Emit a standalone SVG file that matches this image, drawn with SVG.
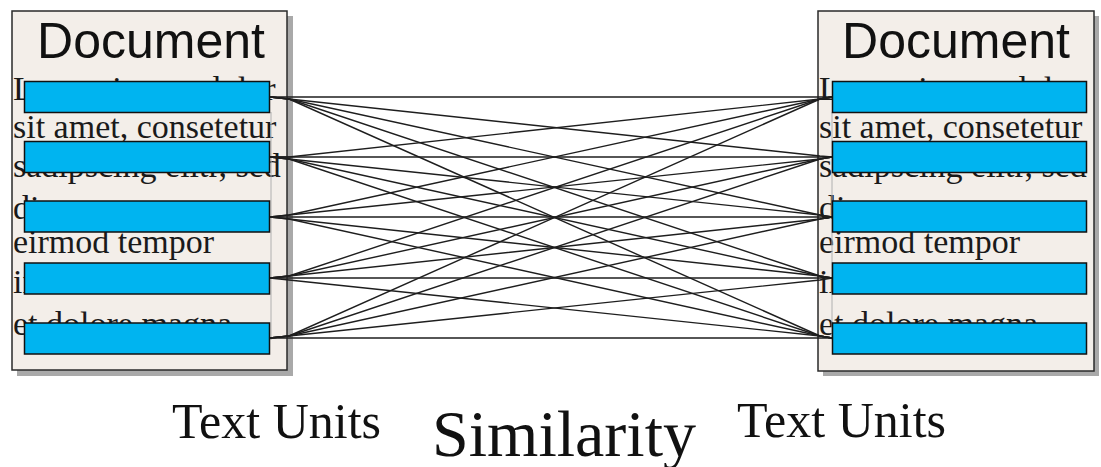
<svg xmlns="http://www.w3.org/2000/svg" width="1101" height="467" viewBox="0 0 1101 467">
<style>
.shadow{fill:#a9a9a9}
.doc{fill:#f3eee9;stroke:#2a2a2a;stroke-width:1.5}
.title{font-family:"Liberation Sans",Arial,sans-serif;font-size:50px;fill:#111;text-anchor:middle}
.lorem{font-family:"Liberation Serif","Times New Roman",serif;font-size:34px;fill:#1a1a1a}
.unit{fill:#00b4f0;stroke:#111;stroke-width:1.5}
.conn{fill:none;stroke:#1e1e1e;stroke-width:1.4}
.guide{stroke:#b0b0b0;stroke-width:1}
.label{font-family:"Liberation Serif","Times New Roman",serif;fill:#111}
</style>
<rect width="1101" height="467" fill="#ffffff"/>
<g id="doc-left">
<rect class="shadow" x="17" y="16" width="276" height="360"/>
<rect class="doc" x="12" y="11" width="275" height="359"/>
<text class="title" x="151" y="58">Document</text>
<text class="lorem" x="13" y="100">Lorem ipsum dolor</text>
<text class="lorem" x="13" y="138">sit amet, consetetur</text>
<text class="lorem" x="13" y="177">sadipscing elitr, sed</text>
<text class="lorem" x="13" y="219">diam nonumy</text>
<text class="lorem" x="13" y="253">eirmod tempor</text>
<text class="lorem" x="13" y="293">invidunt ut labore</text>
<text class="lorem" x="13" y="335">et dolore magna</text>
<line class="guide" x1="271" y1="112" x2="271" y2="340"/>
<rect class="unit" x="24.5" y="81.5" width="245" height="31"/>
<rect class="unit" x="24.5" y="141.5" width="245" height="31"/>
<rect class="unit" x="24.5" y="201" width="245" height="31"/>
<rect class="unit" x="24.5" y="263" width="245" height="31"/>
<rect class="unit" x="24.5" y="323" width="245" height="31"/>
</g>
<g id="doc-right">
<rect class="shadow" x="823" y="16" width="276" height="360"/>
<rect class="doc" x="818" y="11" width="276" height="360"/>
<text class="title" x="956" y="58">Document</text>
<text class="lorem" x="819" y="100">Lorem ipsum dolor</text>
<text class="lorem" x="819" y="138">sit amet, consetetur</text>
<text class="lorem" x="819" y="177">sadipscing elitr, sed</text>
<text class="lorem" x="819" y="219">diam nonumy</text>
<text class="lorem" x="819" y="253">eirmod tempor</text>
<text class="lorem" x="819" y="293">invidunt ut labore</text>
<text class="lorem" x="819" y="335">et dolore magna</text>
<line class="guide" x1="832" y1="112" x2="832" y2="340"/>
<rect class="unit" x="832.5" y="81.5" width="254" height="31"/>
<rect class="unit" x="832.5" y="141.5" width="254" height="31"/>
<rect class="unit" x="832.5" y="201" width="254" height="31"/>
<rect class="unit" x="832.5" y="263" width="254" height="31"/>
<rect class="unit" x="832.5" y="323" width="254" height="31"/>
</g>
<g id="connectors">
<path class="conn" d="M270,97 L289,97 L820,97 L832,97"/>
<path class="conn" d="M270,97 L289,99 L820,156 L832,157"/>
<path class="conn" d="M270,97 L289,99 L820,215 L832,217"/>
<path class="conn" d="M270,97 L289,99 L820,276 L832,278"/>
<path class="conn" d="M270,97 L289,99 L820,336 L832,338"/>
<path class="conn" d="M270,157 L289,157 L820,99 L832,97"/>
<path class="conn" d="M270,157 L289,157 L820,157 L832,157"/>
<path class="conn" d="M270,157 L289,159 L820,215 L832,217"/>
<path class="conn" d="M270,157 L289,159 L820,276 L832,278"/>
<path class="conn" d="M270,157 L289,159 L820,336 L832,338"/>
<path class="conn" d="M270,217 L289,215 L820,99 L832,97"/>
<path class="conn" d="M270,217 L289,215 L820,159 L832,157"/>
<path class="conn" d="M270,217 L289,217 L820,217 L832,217"/>
<path class="conn" d="M270,217 L289,219 L820,276 L832,278"/>
<path class="conn" d="M270,217 L289,219 L820,336 L832,338"/>
<path class="conn" d="M270,278 L289,276 L820,99 L832,97"/>
<path class="conn" d="M270,278 L289,276 L820,159 L832,157"/>
<path class="conn" d="M270,278 L289,276 L820,219 L832,217"/>
<path class="conn" d="M270,278 L289,278 L820,278 L832,278"/>
<path class="conn" d="M270,278 L289,280 L820,336 L832,338"/>
<path class="conn" d="M270,338 L289,336 L820,99 L832,97"/>
<path class="conn" d="M270,338 L289,336 L820,159 L832,157"/>
<path class="conn" d="M270,338 L289,336 L820,219 L832,217"/>
<path class="conn" d="M270,338 L289,336 L820,280 L832,278"/>
<path class="conn" d="M270,338 L289,338 L820,338 L832,338"/>
</g>
<g id="labels">
<text class="label" x="172" y="438" font-size="50">Text Units</text>
<text class="label" x="432" y="456" font-size="66">Similarity</text>
<text class="label" x="737" y="437" font-size="50">Text Units</text>
</g>
</svg>
